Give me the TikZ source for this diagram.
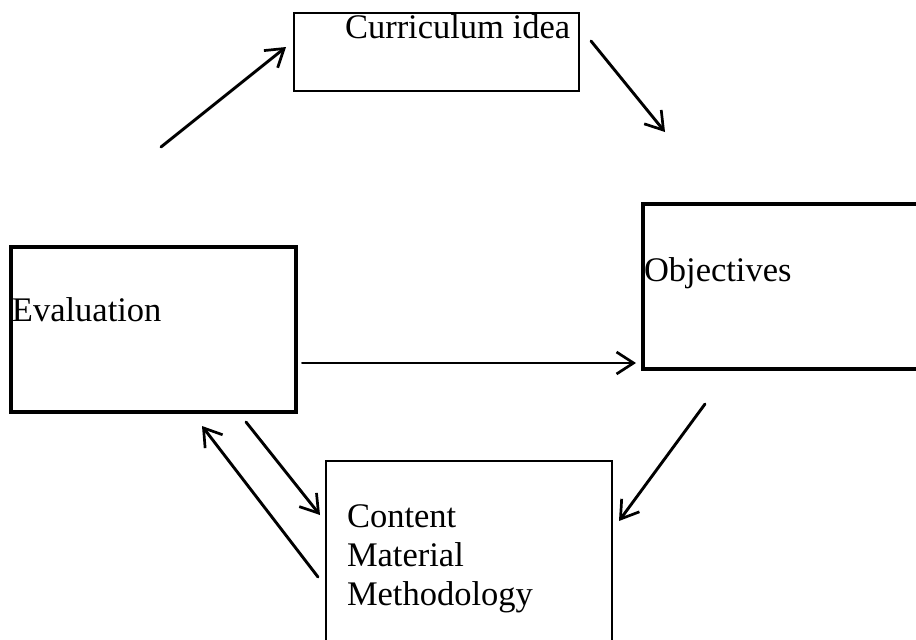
\documentclass[tikz,border=0pt]{standalone}
\usepackage{fontspec}
\setmainfont{Liberation Serif}
\usetikzlibrary{arrows.meta}
\tikzset{
  thickbox/.style={draw=black, line width=3.3pt, inner sep=0pt, outer sep=0pt, anchor=north west},
  thinbox/.style={draw=black, line width=1.8pt, inner sep=0pt, outer sep=0pt, anchor=north west},
  lbl/.style={inner sep=0pt, outer sep=0pt, anchor=base west, font=\fontsize{34.5}{39.6}\selectfont},
  flow/.style={line width=2.9pt, line cap=round, -{Straight Barb[length=17pt,width=22pt,line width=2.7pt]}}
}
\begin{document}
\begin{tikzpicture}[x=1pt,y=-1pt]
\useasboundingbox (0,0) rectangle (916,640);
\fill[white] (0,0) rectangle (916,640);
\clip (0,0) rectangle (916,640);
% boxes
\node[thinbox, line width=2pt, minimum width=285pt, minimum height=78pt] (cur) at (294,13) {};
\node[thickbox, minimum width=285pt, minimum height=165pt] (eval) at (11,247) {};
\node[thickbox, minimum width=320pt, minimum height=165pt] (obj) at (643,204) {};
\node[thinbox, minimum width=286pt, minimum height=240pt] (cont) at (326,461) {};
% labels
\node[lbl] (curt) at (345,38) {Curriculum idea};
\node[lbl] (evalt) at (12,321) {Evaluation};
\node[lbl] (objt) at (644,281) {Objectives};
\node[lbl] (cont1) at (347,527) {Content};
\node[lbl] (cont2) at (347,566) {Material};
\node[lbl] (cont3) at (347,605) {Methodology};
% connector end points
\coordinate (a1s) at (161,147); \coordinate (a1e) at (286,47);
\coordinate (a2s) at (591,41);  \coordinate (a2e) at (665,132);
\coordinate (a3s) at (302,363); \coordinate (a3e) at (636,363);
\coordinate (a4s) at (705,404); \coordinate (a4e) at (619,521);
\coordinate (a5s) at (246,422); \coordinate (a5e) at (320,515);
\coordinate (a6s) at (318,577); \coordinate (a6e) at (202,426);
% connectors
\draw[flow] (a1s) -- (a1e);
\draw[flow] (a2s) -- (a2e);
\draw[flow, line width=2pt] (a3s) -- (a3e);
\draw[flow] (a4s) -- (a4e);
\draw[flow] (a5s) -- (a5e);
\draw[flow] (a6s) -- (a6e);
\end{tikzpicture}
\end{document}
